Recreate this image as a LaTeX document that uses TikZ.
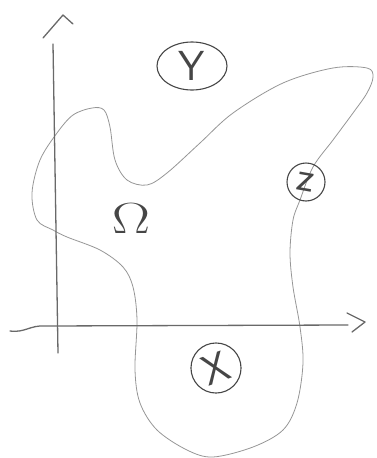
\documentclass[tikz,border=0pt]{standalone}
\usetikzlibrary{shapes.geometric}
\definecolor{pencil}{RGB}{150,150,150}
\definecolor{axisgray}{RGB}{105,105,105}
\definecolor{ink}{RGB}{70,70,70}
\tikzset{
  curveline/.style={draw=pencil, line width=0.8pt, line join=round},
  axisline/.style={draw=axisgray, line width=1.3pt, line cap=round, line join=round},
  labelbox/.style={draw=ink, line width=1.1pt, inner sep=0pt, text=ink, font=\sffamily\fontsize{42}{42}\selectfont},
}
\begin{document}
\begin{tikzpicture}[x=1pt,y=-1pt]
\useasboundingbox (0,0) rectangle (376,458);
% region boundary
\draw[curveline] plot[smooth cycle, tension=0.55] coordinates {
 (367,68) (333,68) (283,83) (233,113) (200,143) (167,173) (147,185) (127,180)
 (115,160) (110,127) (104,110) (92,108) (73,115) (57,133) (40,160) (32,193)
 (37,220) (53,230) (67,237) (100,250) (123,267) (133,287) (137,320) (135,370)
 (140,403) (157,430) (187,450) (213,457) (253,447) (283,430) (297,403) (303,363)
 (300,327) (293,287) (290,253) (293,220) (300,200) (313,167) (333,140) (353,113)
 (367,93) (373,77)};
% axes
\coordinate (ybot) at (58,353);
\coordinate (ytop) at (53,44);
\coordinate (xleft) at (10,331);
\coordinate (xright) at (348,325);
\draw[axisline] (ybot) -- (ytop);
\draw[axisline] (43,38) -- (63,15) -- (73,24);
\draw[axisline] (xleft) .. controls (25,333) and (30,325) .. (45,326) -- (xright);
\draw[axisline] (347,313) -- (365,322) -- (352,332);
% labels
\node[labelbox, ellipse, minimum width=70pt, minimum height=48pt] (Y) at (192,66) {\raisebox{0pt}{Y}};
\node[labelbox, circle, minimum size=38pt] (Z) at (306,182) {\rotatebox{-10}{z}};
\node[labelbox, circle, minimum size=45pt] (X) at (216,368) {\rotatebox{20}{X}};
\node[text=ink, inner sep=0pt, font=\Huge] (Om) at (131,219) {\scalebox{2.3}[1.75]{$\Omega$}};
\end{tikzpicture}
\end{document}
